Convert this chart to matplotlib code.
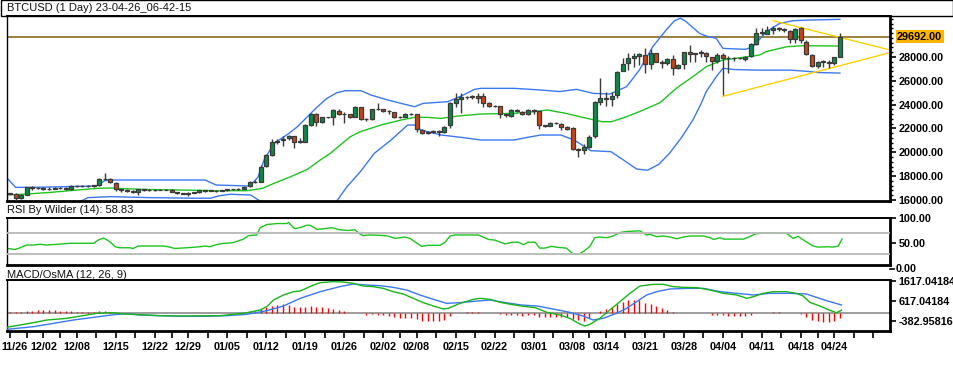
import matplotlib
matplotlib.use('Agg')
import matplotlib.pyplot as plt
from matplotlib.patches import Rectangle
from matplotlib.ticker import FixedLocator, MultipleLocator
import matplotlib.transforms as mtransforms

plt.rcParams['font.family'] = ['Liberation Sans', 'DejaVu Sans']

title = "BTCUSD (1 Day) 23-04-26_06-42-15"
rsi_title = "RSI By Wilder (14): 58.83"
macd_title = "MACD/OsMA (12, 26, 9)"

tick_labels = ['11/26', '12/02', '12/08', '12/15', '12/22', '12/29', '01/05', '01/12',
               '01/19', '01/26', '02/02', '02/08', '02/15', '02/22', '03/01', '03/08',
               '03/14', '03/21', '03/28', '04/04', '04/11', '04/18', '04/24']
tick_bars = [0, 6, 12, 19, 26, 32, 39, 46, 53, 60, 67, 73, 80, 87, 94, 101, 107, 114,
             121, 128, 135, 142, 148]

opens = [16560, 16530, 16195, 16450, 17060, 16990, 16970, 16920, 16950, 17000,
         16990, 16900, 17175, 17150, 17175, 17170, 17230, 17733, 17780, 17450,
         16894, 16840, 16780, 16650, 16894, 16840, 16830, 16850, 16880, 16850,
         16670, 16560, 16500, 16600, 16660, 16810, 16780, 16790, 16760, 16810,
         16890, 16900, 16950, 17174, 17481, 17537, 18852, 19774, 20837, 21033,
         21173, 21369, 20893, 20893, 22292, 23215, 22572, 22935, 22935, 23494,
         23187, 23187, 22991, 23775, 22770, 22770, 23606, 23606, 23466, 23355,
         22935, 22990, 23215, 23190, 21870, 21590, 21705, 21817, 21680, 22290,
         24110, 24445, 24613, 24613, 24725, 24725, 24165, 23885, 23885, 23215,
         23046, 23550, 23410, 23215, 23550, 23466, 22292, 22236, 22488, 22376,
         22152, 22012, 20250, 20195, 20418, 21370, 24250, 24530, 24445, 24810,
         26850, 27466, 27886, 28081, 28165, 27410, 28305, 27606, 27466, 27802,
         27047, 27382, 28389, 28221, 28305, 28305, 27970, 27661, 28165, 27886,
         27886, 27886, 27802, 28081, 29060, 30039, 29900, 30260, 30400, 30320,
         30207, 29508, 30403, 29284, 28165, 27270, 27606, 27606, 27466, 28025]
highs = [16620, 16560, 16480, 17120, 17200, 17100, 17060, 17050, 17100, 17080,
         17050, 17250, 17250, 17230, 17260, 17260, 17820, 18290, 17850, 17480,
         16950, 16900, 16850, 16950, 16950, 16920, 16900, 16940, 16950, 16900,
         16700, 16620, 16650, 16700, 16850, 16850, 16830, 16830, 16850, 16930,
         16950, 17000, 17150, 17560, 17650, 18900, 19850, 21090, 21100, 21400,
         21450, 21400, 21170, 22350, 23300, 23260, 23000, 23000, 23600, 23610,
         23420, 23200, 23850, 23800, 22900, 23650, 24110, 23650, 23550, 23400,
         23050, 23280, 23300, 23250, 21950, 21800, 21900, 21900, 22250, 24200,
         24950, 24950, 24750, 24800, 24950, 24950, 24200, 23950, 23900, 23250,
         23600, 23600, 23500, 23600, 23650, 23500, 22300, 22550, 22550, 22500,
         22200, 22150, 20400, 20700, 21450, 24300, 26200, 25090, 25100, 26850,
         27886, 28305, 28305, 28360, 28725, 28640, 28350, 27746, 27900, 28165,
         27400, 28445, 29005, 28360, 28585, 28445, 28025, 28305, 28305, 28081,
         27970, 27950, 28081, 29200, 30400, 30400, 30600, 30600, 30500, 30400,
         30300, 30400, 30487, 29424, 28220, 27690, 27746, 27746, 28000, 29983]
lows = [16480, 16000, 16050, 16420, 16870, 16900, 16850, 16880, 16900, 16930,
        16850, 16880, 17080, 17100, 17100, 17110, 17180, 17650, 17400, 16780,
        16700, 16700, 16600, 16420, 16780, 16780, 16770, 16800, 16800, 16640,
        16520, 16480, 16330, 16550, 16600, 16700, 16720, 16700, 16720, 16780,
        16850, 16870, 16930, 17060, 17400, 17500, 18800, 19700, 20700, 20530,
        21050, 20334, 20750, 20850, 22250, 22236, 22430, 22850, 22292, 23150,
        22490, 22900, 22950, 22700, 22650, 22700, 23550, 23400, 23220, 22900,
        22850, 22950, 23100, 21730, 21550, 21500, 21650, 21370, 21620, 22000,
        23830, 23270, 24500, 24450, 24100, 23830, 23800, 23800, 22850, 23000,
        22950, 23400, 23150, 23150, 23215, 21930, 22150, 22200, 22350, 21870,
        21850, 20200, 19634, 19900, 20350, 21200, 23980, 23886, 23886, 24600,
        26800, 26906, 27186, 27326, 26627, 26962, 27550, 27047, 27326, 26487,
        27000, 26962, 27606, 27606, 28025, 27606, 26907, 27522, 24808, 26683,
        27690, 27800, 27700, 28000, 29000, 29840, 29900, 29950, 30200, 30100,
        29200, 29145, 29200, 28165, 27186, 27100, 27186, 27047, 27300, 27970]
closes = [16530, 16195, 16450, 17060, 16990, 16970, 16920, 16950, 17000, 16990,
          16900, 17175, 17150, 17175, 17170, 17230, 17733, 17780, 17480, 16894,
          16840, 16780, 16650, 16894, 16840, 16830, 16850, 16880, 16850, 16670,
          16560, 16500, 16600, 16660, 16810, 16780, 16790, 16760, 16810, 16890,
          16900, 16950, 17090, 17481, 17510, 18796, 19774, 20837, 20977, 21117,
          21369, 20893, 20950, 22292, 23215, 22572, 22935, 22935, 23550, 23187,
          23187, 22991, 23774, 22770, 22770, 23606, 23606, 23466, 23466, 22935,
          22935, 23215, 23190, 21930, 21590, 21705, 21817, 21730, 22150, 24110,
          24445, 24613, 24613, 24700, 24530, 24165, 23885, 23885, 23215, 23130,
          23550, 23495, 23215, 23550, 23495, 22292, 22236, 22488, 22432, 22152,
          21928, 20250, 20195, 20418, 21313, 24250, 24530, 24500, 24725, 26767,
          27410, 27886, 28081, 28250, 27410, 28305, 27606, 27522, 27802, 27047,
          27326, 28389, 28221, 28305, 28389, 28081, 27634, 28165, 27886, 27886,
          27886, 27886, 28025, 29060, 30039, 30067, 30260, 30400, 30320, 30260,
          29508, 30319, 29424, 28221, 27270, 27606, 27606, 27466, 27969, 29692]

last_price = 29692.00

# Bollinger bands (20, 2) at sample bars
bb_up_x = [-0.5, 1, 4, 10, 15.5, 17, 18, 35, 37, 43, 44.5, 45.6, 47.4, 50.1, 51.6, 53.4,
           55.2, 56.9, 58.7, 60.2, 63, 64.8, 67.8, 72.6, 74.2, 78.6, 81, 83.4, 84.6, 90.5,
           95.3, 98.7, 101.7, 104.7, 107.7, 110.7, 113, 115.4, 117.8, 119.3, 120.4, 121.4,
           123.8, 125, 126.8, 128, 132, 133.4, 135.8, 138.2, 140.6, 143.6, 149]
bb_up_y = [17817, 17062, 17062, 17118, 17180, 17620, 17677, 17677, 17258, 17174, 17900,
           19355, 20754, 21593, 22152, 22991, 23830, 24530, 25005, 25173, 25173, 24810,
           24390, 23830, 24110, 24250, 24725, 25285, 25369, 25369, 25229, 25100, 25284,
           24949, 24893, 25508, 26907, 28864, 30263, 31046, 31250, 30962, 29983, 29760,
           29564, 28724, 28641, 28864, 30123, 30822, 31046, 31102, 31158]
bb_mid_x = [-0.5, 3.1, 7.3, 12.1, 15.7, 18.1, 23.5, 30.7, 36.6, 42.6, 45.3, 47.4, 50.4,
            53.4, 55.7, 57.5, 59.3, 61.1, 62.9, 66.6, 70.2, 72.6, 75, 77.4, 80.4, 84.6,
            90.5, 94, 96.5, 99.8, 102.8, 106.3, 108, 110.7, 113.7, 116.7, 119.6, 122.6,
            125, 128, 131.6, 134.6, 135.7, 139.5, 142.4, 149]
bb_mid_y = [16419, 16503, 16642, 16838, 16978, 17006, 16894, 16838, 16782, 16782, 16978,
            17397, 17957, 18572, 19355, 19914, 20614, 21313, 21733, 22292, 22711, 22935,
            22935, 22851, 23047, 23215, 23271, 23410, 23550, 23271, 22935, 22571, 22571,
            22990, 23550, 24165, 25368, 26347, 27186, 27746, 27970, 28165, 28445, 28864,
            28948, 28920]
bb_lo_x = [-0.5, 12.5, 14, 18, 25, 33, 36, 37.5, 39.6, 43.2, 44.6, 46, 50, 55, 58.8,
           60.5, 62.9, 65.4, 68.4, 71.4, 72.6, 73.8, 77.4, 81, 84.6, 90.5, 92.9, 95.3,
           98.9, 101.3, 104.3, 107.9, 110, 112.5, 114.5, 116.5, 118.4, 120.5, 122.6, 124,
           125, 126.8, 128, 130, 134, 140, 143, 145, 149]
bb_lo_y = [15600, 15850, 16200, 16280, 16200, 16150, 16150, 16350, 16480, 16418, 16000,
           15500, 14800, 14900, 16000, 17118, 18376, 19914, 21033, 22292, 22292, 21872,
           21453, 21257, 21033, 21033, 21257, 21453, 21453, 21033, 20138, 20054, 19400,
           18600, 18500, 19000, 19914, 21200, 22711, 24000, 25089, 26347, 27046, 26950,
           26900, 26900, 26800, 26700, 26650]

# yellow triangle trendlines (bar, price)
tl_upper_x = [137, 158]
tl_upper_y = [31050, 28590]
tl_lower_x = [128, 158]
tl_lower_y = [24700, 28370]

# RSI(14) read at sample bars
rsi_x = [-0.5, 0.9, 1.8, 3.0, 4.2, 5.4, 6.6, 8.4, 10.2, 10.8, 15.0, 15.9, 16.8, 17.7,
         18.9, 19.7, 21.5, 22.1, 23.0, 26.3, 27.5, 28.4, 29.6, 31.7, 34.1, 35.0, 35.9,
         36.8, 38.0, 40.1, 41.9, 42.8, 44.3, 44.9, 46.1, 47.9, 49.7, 50.0, 50.9, 51.2,
         52.4, 53.3, 53.9, 55.1, 56.3, 57.8, 59.2, 60.7, 61.9, 62.8, 63.4, 64.6, 66.4,
         67.9, 69.1, 70.9, 71.8, 73.0, 73.9, 75.1, 77.2, 78.1, 79.0, 79.9, 84.1, 85.9,
         87.1, 88.0, 88.9, 90.1, 91.3, 92.2, 93.0, 94.3, 95.1, 96.0, 97.2, 98.4, 99.9,
         101.1, 102.2, 103.1, 104.1, 105.0, 105.9, 107.1, 108.3, 109.5, 110.7, 113.1,
         114.3, 114.9, 116.1, 117.3, 118.5, 119.7, 120.9, 122.1, 124.5, 125.7, 126.3,
         127.5, 128.1, 131.7, 132.9, 133.8, 135.0, 137.0, 139.4, 140.0, 140.6, 141.5,
         142.7, 144.2, 145.1, 146.9, 147.8, 148.7, 149.4]
rsi_y = [40.1, 38.1, 41.5, 46.9, 46.9, 48.3, 46.9, 48.3, 49.7, 50.3, 50.3, 57.1, 60.5,
         55.1, 43.5, 41.5, 41.5, 40.1, 44.9, 44.9, 44.9, 43.5, 40.1, 41.5, 43.5, 44.9,
         43.5, 46.9, 49.7, 51.7, 58.5, 65.3, 66.7, 80.9, 87.1, 89.1, 89.1, 91.2, 80.9,
         78.9, 82.3, 85.7, 85.7, 77.6, 78.9, 80.9, 76.9, 75.5, 76.9, 68.7, 65.3, 66.7,
         65.9, 64.6, 59.9, 62.6, 59.9, 51.0, 44.2, 46.3, 46.3, 52.4, 64.6, 66.6, 66.6,
         57.8, 56.5, 52.4, 49.0, 52.4, 52.4, 47.6, 52.4, 52.4, 40.8, 40.8, 44.2, 42.2,
         40.8, 29.3, 29.3, 35.4, 44.2, 61.2, 62.6, 61.2, 64.6, 71.4, 73.5, 74.8, 66.6,
         68.0, 63.3, 64.6, 62.6, 59.2, 62.6, 64.6, 64.6, 61.2, 57.8, 61.2, 58.5, 58.5,
         63.9, 68.7, 70.2, 70.3, 70.0, 65.3, 59.9, 63.9, 55.1, 44.9, 42.8, 43.5, 42.8,
         44.9, 58.83]

# MACD (12, 26, 9) main line, signal line, OsMA histogram
macd_x = [-0.6, 1.8, 4.2, 6.6, 10.2, 13.8, 15.6, 18.6, 19.7, 26.9, 30.5, 37.7, 40.1,
          42.5, 44.9, 46.1, 47.3, 49.1, 50.9, 52.1, 54.5, 55.7, 58.0, 59.8, 61.6, 63.4,
          65.2, 67.0, 68.8, 70.6, 72.4, 74.2, 76.0, 77.8, 78.7, 80.8, 83.2, 84.4, 86.2,
          88.0, 89.9, 91.8, 94.3, 96.4, 98.7, 100.5, 102.3, 103.2, 104.1, 105.9, 107.7,
          109.5, 111.3, 113.1, 115.5, 117.3, 119.1, 120.9, 123.3, 125.7, 128.1, 130.5,
          132.3, 133.5, 135.2, 137.0, 139.4, 141.2, 142.4, 143.6, 145.4, 147.2, 148.4,
          149.3]
macd_y = [-702, -585, -468, -335, -252, -85, 0, 31, -19, -119, -135, -119, -52, 31, 165,
          332, 665, 915, 1081, 1115, 1415, 1532, 1582, 1565, 1498, 1365, 1332, 1248,
          1081, 965, 748, 532, 365, 215, 248, 498, 698, 748, 698, 548, 448, 365, 281, 48,
          -85, -252, -535, -635, -552, -252, 165, 581, 998, 1365, 1448, 1448, 1332, 1298,
          1282, 1165, 998, 915, 748, 831, 998, 1081, 1081, 998, 865, 548, 365, 150, 30,
          160]
signal_x = [-0.6, 4.2, 7.8, 11.4, 15.0, 18.6, 20.9, 23.3, 26.9, 30.5, 35.3, 38.9, 42.5,
            46.1, 49.1, 52.1, 55.7, 59.2, 61.6, 64.0, 66.4, 68.8, 71.2, 73.6, 76.0, 78.4,
            80.8, 82.6, 86.2, 88.6, 91.8, 94.6, 97.5, 100.5, 102.9, 104.7, 106.5, 108.9,
            110.7, 112.5, 114.3, 116.1, 118.5, 121.5, 124.5, 127.5, 130.5, 133.5, 136.4,
            140.0, 143.0, 144.8, 146.6, 149.3]
signal_y = [-802, -669, -502, -335, -202, -69, -19, -85, -119, -152, -152, -119, -52, 131,
            365, 748, 1081, 1332, 1465, 1415, 1382, 1298, 1165, 915, 698, 498, 532, 581,
            665, 548, 415, 365, 215, 48, -135, -335, -252, 0, 248, 581, 915, 1081, 1215,
            1248, 1248, 1081, 998, 915, 998, 998, 965, 798, 631, 415]
osma = [65, 48, 48, 115, 115, 165, 148, 165, 148, 115,
        115, 115, 81, 81, 65, 65, 98, 98, 65, 0,
        0, 0, 0, 0, 0, 0, 0, 0, 0, 0,
        0, 0, 0, 0, 0, 0, 0, 0, 0, 0,
        0, 0, 0, 65, 98, 215, 298, 381, 415, 465,
        415, 332, 315, 332, 365, 332, 315, 265, 215, 165,
        115, 0, 0, 0, -69, -52, -69, -102, -119, -169,
        -219, -219, -219, -302, -369, -369, -369, -369, -335, -119,
        0, 0, 65, 65, 65, 0, 0, 0, -52, -69,
        -85, -102, -119, -102, -102, -202, -202, -202, -202, -169,
        -202, -302, -335, -369, -252, 0, 131, 215, 298, 448,
        581, 665, 665, 665, 531, 465, 365, 281, 165, 65,
        0, 0, 0, 0, 0, 0, -90, -90, -90, -120,
        -120, -120, -120, -90, 0, 0, 0, 50, 50, 0,
        0, 0, -50, -170, -335, -385, -420, -420, -385, -220]

W, H = 954, 373
fig = plt.figure(figsize=(W / 100, H / 100), dpi=100)
fig.patch.set_facecolor('white')


def axes_px(x0, y0, x1, y1):
    return fig.add_axes([x0 / W, 1 - y1 / H, (x1 - x0) / W, (y1 - y0) / H])


ax = axes_px(7, 16, 890, 201)
ax_rsi = axes_px(7, 218, 890, 264.5)
ax_macd = axes_px(7, 280, 890, 331)

XMIN, XMAX = -0.55, 158.0
lab_font = dict(fontsize=7.8, fontweight='bold')

for a in (ax, ax_rsi, ax_macd):
    a.set_xlim(XMIN, XMAX)
    a.set_facecolor('white')
    for side, lw in (('left', 1.0), ('top', 1.4), ('right', 2.0), ('bottom', 2.0)):
        a.spines[side].set_linewidth(lw)
        a.spines[side].set_color('black')
    a.yaxis.tick_right()
    a.tick_params(axis='y', which='major', direction='out', length=4, width=1.2,
                  pad=2, labelsize=7.8, colors='black')
    a.tick_params(axis='y', which='minor', direction='out', length=2, width=1)

# ---------------- main candles ----------------
idx = list(range(len(closes)))
up_c, dn_c, edge_c = '#0C8A45', '#CC4414', '#3A3A3A'
ax.vlines(idx, lows, highs, color=edge_c, lw=1.0, zorder=3)
bottoms = [min(o, c) for o, c in zip(opens, closes)]
heights = [max(abs(c - o), 18) for o, c in zip(opens, closes)]
colors = [up_c if c >= o else dn_c for o, c in zip(opens, closes)]
ax.bar(idx, heights, bottom=bottoms, width=0.72, color=colors, edgecolor=edge_c,
       linewidth=0.9, zorder=4)

ax.plot(bb_up_x, bb_up_y, color='#3A78F2', lw=1.0, zorder=2)
ax.plot(bb_lo_x, bb_lo_y, color='#3A78F2', lw=1.0, zorder=2)
ax.plot(bb_mid_x, bb_mid_y, color='#1EC41E', lw=1.0, zorder=2)
ax.plot(tl_upper_x, tl_upper_y, color='#FFD000', lw=1.0, zorder=2)
ax.plot(tl_lower_x, tl_lower_y, color='#FFD000', lw=1.0, zorder=2)
ax.axhline(last_price, color='#8A6A1C', lw=1.2, zorder=1)

ax.set_ylim(15916, 31440)
main_ticks = [16000, 18000, 20000, 22000, 24000, 26000, 28000]
ax.yaxis.set_major_locator(FixedLocator(main_ticks))
ax.set_yticklabels([f"{v:.2f}" for v in main_ticks], **lab_font)
ax.yaxis.set_minor_locator(MultipleLocator(400))
ax.set_xticks([])
trans = mtransforms.blended_transform_factory(ax.transAxes, ax.transData)
ax.text(1.0 + 7 / 883, last_price, f"{last_price:.2f}", transform=trans, ha='left',
        va='center', color='black', fontsize=7.8, fontweight='bold', clip_on=False,
        bbox=dict(facecolor='#FFB400', edgecolor='none', pad=1.0))

# ---------------- RSI ----------------
ax_rsi.plot(rsi_x, rsi_y, color='#1EC41E', lw=1.0, zorder=2)
ax_rsi.axhline(70, color='#B8B8B8', lw=1.3, zorder=3)
ax_rsi.axhline(30, color='#B8B8B8', lw=1.3, zorder=3)
ax_rsi.set_ylim(8.6, 100)
ax_rsi.yaxis.set_major_locator(FixedLocator([50, 100]))
ax_rsi.set_yticklabels(['50.00', '100.00'], **lab_font)
ax_rsi.set_xticks([])
trans_r = mtransforms.blended_transform_factory(ax_rsi.transAxes, ax_rsi.transData)
ax_rsi.text(1.0 + 6 / 883, 0, '0.00', transform=trans_r, ha='left', va='center',
            fontsize=7.8, fontweight='bold', clip_on=False)
ax_rsi.plot([1.0, 1.0 + 4 / 883], [0, 0], transform=trans_r, color='black', lw=1.2,
            clip_on=False)

# ---------------- MACD ----------------
ax_macd.axhline(0, color='#8C8C8C', lw=1.2, zorder=1)
ax_macd.vlines(idx, 0, osma, color='#FF0000', lw=1.0, zorder=2)
ax_macd.plot(signal_x, signal_y, color='#3A78F2', lw=1.0, zorder=3)
ax_macd.plot(macd_x, macd_y, color='#19B419', lw=1.0, zorder=3)
ax_macd.set_ylim(-885, 1665)
macd_ticks = [-382.95816, 617.04184, 1617.04184]
ax_macd.yaxis.set_major_locator(FixedLocator(macd_ticks))
ax_macd.set_yticklabels([f"{v:.5f}" for v in macd_ticks], **lab_font)

ax_macd.set_xticks(tick_bars)
ax_macd.set_xticklabels(tick_labels, **lab_font)
mids = [(a + b) / 2 for a, b in zip(tick_bars[:-1], tick_bars[1:])] + [151.5, 155]
ax_macd.set_xticks(mids, minor=True)
ax_macd.tick_params(axis='x', which='both', direction='out', length=5, width=1.2, pad=3)
# keep the first date label inside the picture
first = ax_macd.get_xticklabels()[0]
first.set_transform(first.get_transform() +
                    mtransforms.ScaledTranslation(4.5 / 100, 0, fig.dpi_scale_trans))

# ---------------- titles ----------------
fig.patches.append(Rectangle((0.5 / W, 1 - 15.5 / H), 952.5 / W, 15 / H,
                             transform=fig.transFigure, fill=False, edgecolor='black',
                             lw=1.0))
fig.text(7 / W, 1 - 8 / H, title, ha='left', va='center', fontsize=8, color='#111111')
fig.text(7 / W, 1 - 210 / H, rsi_title, ha='left', va='center', fontsize=8,
         color='#111111')
fig.text(7 / W, 1 - 275 / H, macd_title, ha='left', va='center', fontsize=8,
         color='#111111')

fig.savefig('out.png', dpi=100)
